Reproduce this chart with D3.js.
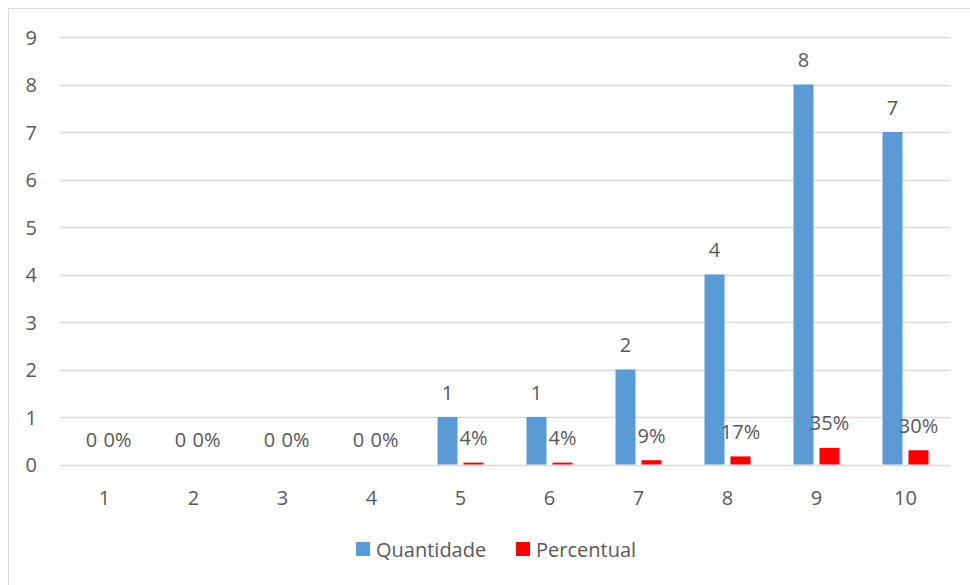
<!DOCTYPE html>
<html>
<head>
<meta charset="utf-8">
<script src="https://cdn.jsdelivr.net/npm/d3@7"></script>
<style>
  html, body { margin: 0; padding: 0; background: #fff; }
  svg { display: block; }
  text { font-family: "Open Sans", sans-serif; fill: #595959; }
</style>
</head>
<body>
<svg id="chart" width="970" height="585"></svg>
<script>
const categories = ["1", "2", "3", "4", "5", "6", "7", "8", "9", "10"];
const quantidade = [0, 0, 0, 0, 1, 1, 2, 4, 8, 7];
const percentual = [0, 0, 0, 0, 0.04, 0.04, 0.09, 0.17, 0.35, 0.30];
const percentLabels = ["0%", "0%", "0%", "0%", "4%", "4%", "9%", "17%", "35%", "30%"];
const yTicks = [0, 1, 2, 3, 4, 5, 6, 7, 8, 9];
const seriesNames = ["Quantidade", "Percentual"];
const seriesColors = ["#5b9bd5", "#ff0000"];

const svg = d3.select("#chart");
const plotLeft = 60, plotRight = 950, plotTop = 37, plotBottom = 464.5;
const fs = "20px";

// outer border
svg.append("rect")
  .attr("x", 8.5).attr("y", 8.5)
  .attr("width", 980).attr("height", 600)
  .attr("fill", "none").attr("stroke", "#d9d9d9").attr("stroke-width", 1);

const x = d3.scaleBand().domain(categories).range([plotLeft, plotRight]).padding(0);
const y = d3.scaleLinear().domain([0, 9]).range([plotBottom, plotTop]);

const barW = 20, gap = 6;
const xSub = d3.scaleOrdinal().domain(seriesNames)
  .range([-(gap / 2 + barW), gap / 2]);

// gridlines
svg.append("g").selectAll("line").data(yTicks).join("line")
  .attr("x1", plotLeft).attr("x2", plotRight)
  .attr("y1", d => Math.round(y(d)) + 0.5).attr("y2", d => Math.round(y(d)) + 0.5)
  .attr("stroke", "#d9d9d9").attr("stroke-width", 1.5);

// y labels
svg.append("g").selectAll("text").data(yTicks).join("text")
  .attr("x", 37).attr("y", d => y(d))
  .attr("text-anchor", "end").attr("dominant-baseline", "central")
  .style("font-size", fs)
  .text(d => d);

// x labels
svg.append("g").selectAll("text").data(categories).join("text")
  .attr("x", d => x(d) + x.bandwidth() / 2).attr("y", 497)
  .attr("text-anchor", "middle").attr("dominant-baseline", "central")
  .style("font-size", fs)
  .text(d => d);

const series = [
  { name: "Quantidade", values: quantidade, labels: quantidade.map(String) },
  { name: "Percentual", values: percentual, labels: percentLabels }
];

series.forEach((s, si) => {
  const g = svg.append("g");
  g.selectAll("rect").data(categories).join("rect")
    .attr("x", (d) => x(d) + x.bandwidth() / 2 + xSub(s.name))
    .attr("width", barW)
    .attr("y", (d, i) => y(s.values[i]))
    .attr("height", (d, i) => y(0) - y(s.values[i]))
    .attr("fill", seriesColors[si]);
  g.selectAll("text").data(categories).join("text")
    .attr("x", (d) => x(d) + x.bandwidth() / 2 + xSub(s.name) + barW / 2)
    .attr("y", (d, i) => y(s.values[i]) - 25)
    .attr("text-anchor", "middle").attr("dominant-baseline", "central")
    .style("font-size", fs)
    .text((d, i) => s.labels[i]);
});

// legend
const legend = svg.append("g");
const legendItems = [
  { name: "Quantidade", color: seriesColors[0], x: 356 },
  { name: "Percentual", color: seriesColors[1], x: 516 }
];
legendItems.forEach(it => {
  legend.append("rect").attr("x", it.x).attr("y", 542).attr("width", 14).attr("height", 14).attr("fill", it.color);
  legend.append("text").attr("x", it.x + 20).attr("y", 549)
    .attr("dominant-baseline", "central").style("font-size", fs).text(it.name);
});
</script>
</body>
</html>
